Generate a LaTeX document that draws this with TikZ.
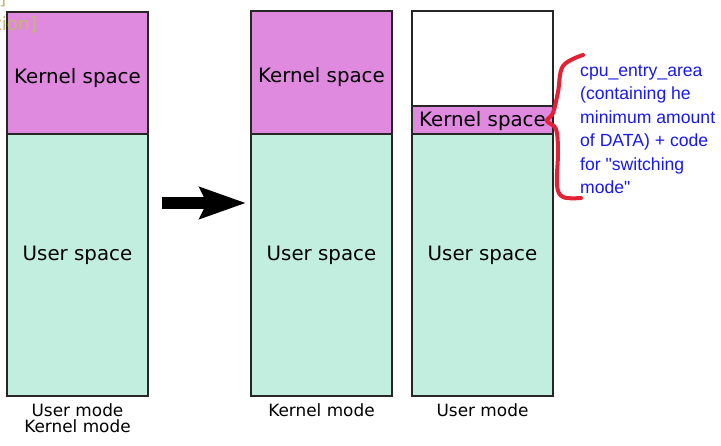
\documentclass[tikz,border=0pt]{standalone}
\usepackage{fontspec}
\setmainfont{DejaVu Sans}
\newfontfamily\notefont{Liberation Sans}
\usetikzlibrary{positioning,arrows.meta}
\definecolor{kernelcol}{RGB}{223,137,223}
\definecolor{usercol}{RGB}{194,238,223}
\definecolor{notecol}{RGB}{25,25,235}
\definecolor{bracecol}{RGB}{228,32,52}
\definecolor{cutcol}{RGB}{200,180,120}

\begin{document}
\begin{tikzpicture}[x=1pt, y=-1pt,
    region/.style={draw=black!85, line width=1.2pt, inner sep=0pt, outer sep=0pt, minimum width=141pt},
    kspace/.style={region, fill=kernelcol},
    uspace/.style={region, fill=usercol, minimum height=262pt},
    blank/.style={region, fill=white},
    spacelabel/.style={font=\fontsize{19.8}{22}\selectfont},
    modelabel/.style={font=\fontsize{16.9}{16}\selectfont, align=center},
    cutlabel/.style={anchor=base west, text=cutcol, inner sep=0pt, font=\fontsize{18.5}{20}\selectfont},
    bigarrow/.style={-{Stealth[length=46pt, width=31pt, inset=7pt]}, line width=12pt},
]
\useasboundingbox (0,0) rectangle (721,446);
\clip (0,0) rectangle (721,446);

% ============ LEFT: ONE ADDRESS SPACE ============
\node[kspace, minimum height=122pt, anchor=north west] (k1) at (7,12) {};
\node[uspace, below=0pt of k1] (u1) {};
\node[spacelabel] (kt1) at ([yshift=-5pt]k1.center) {Kernel space};
\node[spacelabel] (ut1) at ([yshift=10pt]u1.center) {User space};
\node[modelabel, below=4pt of u1] (m1) {User mode\\Kernel mode};

% ============ CUT-OFF TEXT (top left) ============
\node[cutlabel] (cut1) at (-1,5) {]};
\node[cutlabel] (cut2) at (-5.7,31) {tion]};

% ============ ARROW ============
\coordinate (arrtail) at (162,203);
\coordinate (arrhead) at (246,203);
\draw[bigarrow] (arrtail) -- (arrhead);

% ============ RIGHT: KERNEL MODE ============
\node[kspace, minimum height=123pt, anchor=north west] (k2) at (251,11) {};
\node[uspace, below=0pt of k2] (u2) {};
\node[spacelabel] (kt2) at ([yshift=-5pt]k2.center) {Kernel space};
\node[spacelabel] (ut2) at ([yshift=10pt]u2.center) {User space};
\node[modelabel, below=4pt of u2] (m2) {Kernel mode};

% ============ RIGHT: USER MODE ============
\node[blank, minimum height=95pt, anchor=north west] (b3) at (412,11) {};
\node[kspace, minimum height=28pt, below=0pt of b3] (k3) {};
\node[uspace, below=0pt of k3] (u3) {};
\node[spacelabel] (kt3) at ([yshift=-1.5pt]k3.center) {Kernel space};
\node[spacelabel] (ut3) at ([yshift=10pt]u3.center) {User space};
\node[modelabel, below=4pt of u3] (m3) {User mode};

% ============ BRACE + NOTE ============
\draw[bracecol, line width=4pt, line cap=round, line join=round]
  plot[smooth, tension=0.6] coordinates {(583,55) (563,66) (558,92) (553,113) (547,121) (556,129) (558,152) (557,185) (563,197) (581,198)};
\node[anchor=north west, inner sep=0pt, align=left, text=notecol,
      font=\notefont\fontsize{17.6}{23.4}\selectfont] (note) at (580,65)
  {cpu\_entry\_area\\(containing he\\minimum amount\\of DATA) + code\\for "switching\\mode"};

\end{tikzpicture}
\end{document}
